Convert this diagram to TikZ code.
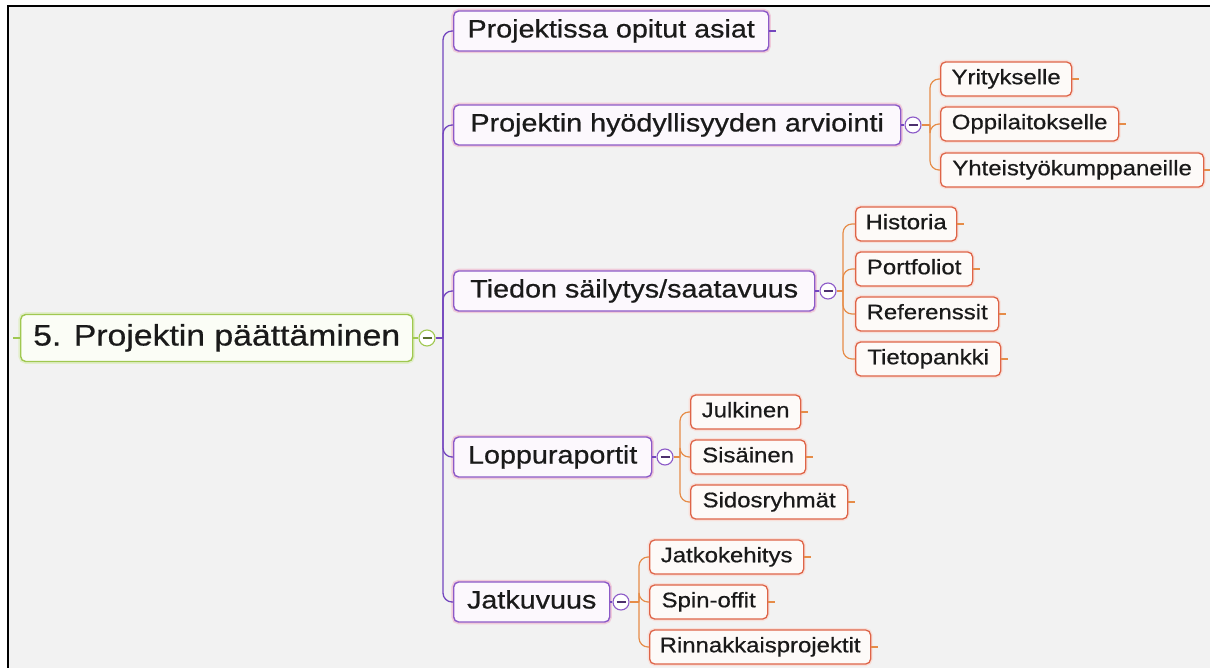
\documentclass[tikz,border=0pt]{standalone}
\usepackage{fontspec}
\newfontfamily\mapfont[FakeStretch=1.14, FakeBold=0.6]{Liberation Sans}
\usetikzlibrary{calc}

\definecolor{bgcol}{HTML}{F2F2F2}
\definecolor{textcol}{HTML}{1A1A1A}
\definecolor{rootgreen}{RGB}{160,200,80}
\definecolor{rootfill}{HTML}{FBFDF6}
\definecolor{lonepurple}{RGB}{140,90,200}
\definecolor{lonefill}{HTML}{FCF8FD}
\definecolor{lineviolet}{RGB}{115,70,190}
\definecolor{leafred}{RGB}{222,100,72}
\definecolor{leaffill}{HTML}{FDFAF8}
\definecolor{lineorange}{RGB}{230,140,72}

\tikzset{
  mapbox/.style={rounded corners=5pt, anchor=west, inner xsep=6pt, inner ysep=0pt,
    text=textcol, align=center},
  rootbox/.style={mapbox, draw=rootgreen, fill=rootfill, line width=1.4pt,
    font=\mapfont\fontsize{29.6}{34}\selectfont, text height=21pt, text depth=6pt,
    minimum height=47pt, preaction={draw=rootgreen!30, line width=4.5pt}},
  topicbox/.style={mapbox, draw=lonepurple, fill=lonefill, line width=1.4pt,
    font=\mapfont\fontsize{25.2}{30}\selectfont, text height=18pt, text depth=5pt,
    minimum height=40pt, preaction={draw=lonepurple!22!pink!60!white, line width=4.5pt}},
  leafbox/.style={mapbox, draw=leafred, fill=leaffill, line width=1.3pt,
    font=\mapfont\fontsize{21}{25}\selectfont, text height=15pt, text depth=4.5pt,
    minimum height=34pt, preaction={draw=leafred!20!white, line width=4pt}},
  toggle/.style={circle, draw=#1, fill=white, line width=1.1pt, minimum size=16pt,
    inner sep=0pt,
    path picture={\draw[#1!55!black, line width=1.3pt]
      ([xshift=-4.5pt]path picture bounding box.center) --
      ([xshift=4.5pt]path picture bounding box.center);}},
  greenline/.style={draw=rootgreen, line width=1.1pt},
  violetline/.style={draw=lineviolet, line width=1.3pt},
  orangeline/.style={draw=lineorange, line width=1.2pt},
  branch/.style={rounded corners=9pt},
}

\begin{document}
\begin{tikzpicture}[x=1pt, y=-1pt]
\useasboundingbox (0,0) rectangle (1210,668);
\fill[white] (0,0) rectangle (1210,668);
\fill[bgcol] (8,6) rectangle (1210,668);
\draw[line width=2.5pt, black] (8,668) -- (8,6) -- (1210,6);

% central topic
\node[rootbox, minimum width=392pt] (root) at (20,338) {5. Projektin päättäminen};
\coordinate (rootstub) at ($(root.west)+(-7,0)$);
\draw[greenline] (root.west) -- (rootstub);
\node[toggle=rootgreen] (rootT) at (427,338) {};
\draw[greenline] (root.east) -- (rootT.west);
\coordinate (trunk0) at (443,338);
\draw[violetline] (rootT.east) -- (trunk0);

% main topics
\node[topicbox, minimum width=315pt] (p1) at (453,31)  {Projektissa opitut asiat};
\node[topicbox, minimum width=447pt] (p2) at (453,125) {Projektin hyödyllisyyden arviointi};
\node[topicbox, minimum width=361pt] (p3) at (453,291) {Tiedon säilytys/saatavuus};
\node[topicbox, minimum width=198pt] (p4) at (453,457) {Loppuraportit};
\node[topicbox, minimum width=156pt] (p5) at (453,602) {Jatkuvuus};
\foreach \p in {p1,p2,p3,p4,p5}
  \draw[violetline, branch] (trunk0) |- (\p.west);
\coordinate (p1stub) at ($(p1.east)+(7,0)$);
\draw[violetline] (p1.east) -- (p1stub);

% toggles of the main topics
\node[toggle=lonepurple] (p2T) at (913,125) {};
\node[toggle=lonepurple] (p3T) at (828,291) {};
\node[toggle=lonepurple] (p4T) at (665,457) {};
\node[toggle=lonepurple] (p5T) at (621,602) {};
\foreach \p in {p2,p3,p4,p5}
  \draw[violetline] (\p.east) -- (\p T.west);

\coordinate (trunkA) at (930,125);
\coordinate (trunkB) at (843,291);
\coordinate (trunkC) at (680,457);
\coordinate (trunkD) at (639,602);
\draw[orangeline] (p2T.east) -- (trunkA);
\draw[orangeline] (p3T.east) -- (trunkB);
\draw[orangeline] (p4T.east) -- (trunkC);
\draw[orangeline] (p5T.east) -- (trunkD);

% subtopics
\node[leafbox, minimum width=131pt] (a1) at (940,79)  {Yritykselle};
\node[leafbox, minimum width=178pt] (a2) at (940,124) {Oppilaitokselle};
\node[leafbox, minimum width=263pt] (a3) at (940,170) {Yhteistyökumppaneille};

\node[leafbox, minimum width=101pt] (b1) at (855,224) {Historia};
\node[leafbox, minimum width=117pt] (b2) at (855,269) {Portfoliot};
\node[leafbox, minimum width=143pt] (b3) at (855,314) {Referenssit};
\node[leafbox, minimum width=145pt] (b4) at (855,359) {Tietopankki};

\node[leafbox, minimum width=110pt] (c1) at (690,412) {Julkinen};
\node[leafbox, minimum width=115pt] (c2) at (690,457) {Sisäinen};
\node[leafbox, minimum width=157pt] (c3) at (690,502) {Sidosryhmät};

\node[leafbox, minimum width=154pt] (d1) at (649,557) {Jatkokehitys};
\node[leafbox, minimum width=118pt] (d2) at (649,602) {Spin-offit};
\node[leafbox, minimum width=221pt] (d3) at (649,647) {Rinnakkaisprojektit};

\foreach \t/\list in {trunkA/{a1,a2,a3}, trunkB/{b1,b2,b3,b4},
                      trunkC/{c1,c2,c3}, trunkD/{d1,d2,d3}}
  \foreach \n in \list {
    \draw[orangeline, branch] (\t) |- (\n.west);
    \coordinate (\n stub) at ($(\n.east)+(7,0)$);
    \draw[orangeline] (\n.east) -- (\n stub);
  };
\end{tikzpicture}
\end{document}
